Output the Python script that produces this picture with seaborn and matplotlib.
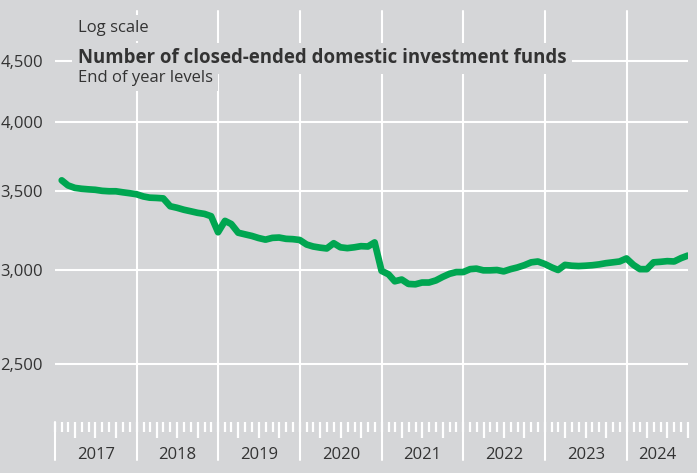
import pandas as pd
import numpy as np
import matplotlib.pyplot as plt
import matplotlib.dates as mdates
import matplotlib.ticker as mticker
import matplotlib.transforms as mtransforms
import seaborn as sns

bg = "#d5d6d8"
green = "#00a651"
text_col = "#333333"

sns.set_style("white", {"axes.facecolor": bg, "figure.facecolor": bg})
plt.rcParams["font.family"] = ["Open Sans", "DejaVu Sans"]

# month-end number of funds
funds_2017 = [3570, 3535, 3518, 3512, 3508, 3505, 3498, 3495, 3495, 3488, 3482, 3475]
funds_2018 = [3460, 3452, 3450, 3447, 3395, 3385, 3372, 3362, 3352, 3345, 3330, 3228]
funds_2019 = [3300, 3280, 3225, 3215, 3205, 3192, 3182, 3193, 3195, 3187, 3185, 3180]
funds_2020 = [3152, 3140, 3133, 3128, 3160, 3135, 3130, 3135, 3142, 3140, 3165, 2995]
funds_2021 = [2975, 2935, 2945, 2920, 2918, 2928, 2928, 2940, 2960, 2978, 2988, 2988]
funds_2022 = [3005, 3008, 2998, 2998, 3000, 2992, 3005, 3015, 3028, 3045, 3050, 3035]
funds_2023 = [3015, 3000, 3030, 3025, 3023, 3025, 3028, 3033, 3040, 3045, 3050, 3068]
funds_2024 = [3030, 3005, 3005, 3045, 3048, 3052, 3050, 3070, 3085]

counts = (funds_2017 + funds_2018 + funds_2019 + funds_2020
          + funds_2021 + funds_2022 + funds_2023 + funds_2024)
months = pd.date_range("2017-01-31", periods=len(counts), freq="ME")
df = pd.DataFrame({"month": months, "funds": counts})

years = list(range(2017, 2025))
y_ticks = [2500, 3000, 3500, 4000, 4500]
x_start = pd.Timestamp("2017-01-01")
x_end = pd.Timestamp("2024-10-01")

fig = plt.figure(figsize=(6.97, 4.73), dpi=100)
ax = fig.add_axes([55 / 697, 1 - 422 / 473, 633 / 697, 411 / 473])

sns.lineplot(data=df, x="month", y="funds", color=green, linewidth=4.8,
             ax=ax, zorder=3)

# axes
ax.set_yscale("log")
ax.set_ylim(2234, 4958)
ax.set_xlim(x_start, x_end)
ax.set_xlabel("")
ax.set_ylabel("")
for s in ax.spines.values():
    s.set_visible(False)

ax.yaxis.set_major_locator(mticker.FixedLocator(y_ticks))
ax.yaxis.set_major_formatter(mticker.FuncFormatter(lambda v, p: f"{v:,.0f}"))
ax.yaxis.set_minor_locator(mticker.NullLocator())
ax.tick_params(axis="y", length=0, pad=8.6, labelsize=12, labelcolor=text_col)
ax.grid(axis="y", color="white", linewidth=1.5)

# monthly ticks, longer at quarters
ax.xaxis.set_major_locator(mdates.MonthLocator(bymonth=[4, 7, 10]))
ax.xaxis.set_minor_locator(mdates.MonthLocator())
ax.tick_params(axis="x", which="both", bottom=True, direction="out",
               color="white", width=1.6, labelbottom=False)
ax.tick_params(axis="x", which="major", length=11.5)
ax.tick_params(axis="x", which="minor", length=7.2)

# year separators, running down past the tick marks
for yr in years:
    ax.axvline(pd.Timestamp(f"{yr}-01-01"), ymin=-38 / 411,
               ymax=0 if yr == 2017 else 1,
               color="white", linewidth=1.5, clip_on=False, zorder=1)

# year labels centred in the visible part of each year
trans = mtransforms.blended_transform_factory(ax.transData, ax.transAxes)
for yr in years:
    a = pd.Timestamp(f"{yr}-01-01")
    b = min(pd.Timestamp(f"{yr + 1}-01-01"), x_end)
    ax.text(a + (b - a) / 2, -0.08, str(yr), transform=trans, ha="center",
            va="center", fontsize=12, color=text_col)

# header texts, boxed in the background colour so they mask the grid
box = dict(boxstyle="square,pad=0.3", fc=bg, ec="none")
fig.text(78 / 697, 1 - 32.3 / 473, "Log scale", fontsize=12, color=text_col,
         va="baseline", bbox=box)
fig.text(78 / 697, 1 - 63.3 / 473, "Number of closed-ended domestic investment funds",
         fontsize=13.4, fontweight="bold", color=text_col, va="baseline", bbox=box)
fig.text(78 / 697, 1 - 81.7 / 473, "End of year levels", fontsize=12,
         color=text_col, va="baseline", bbox=box)

fig.savefig("out.png", dpi=100, facecolor=bg)
